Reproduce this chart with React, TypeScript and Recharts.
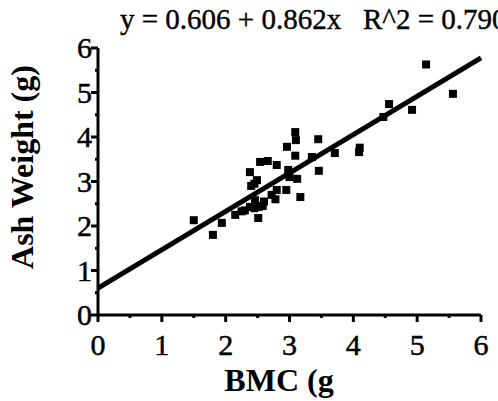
import { ScatterChart, Scatter, XAxis, YAxis, ReferenceLine } from "recharts"

// BMC (g) vs Ash Weight (g)
const bmc = [
  1.5, 1.8, 1.94, 2.15, 2.25, 2.3, 2.38, 2.45, 2.52, 2.58, 2.51, 2.46, 2.4, 2.38,
  2.49, 2.45, 2.54, 2.66, 2.8, 2.72, 2.78, 2.8, 2.95, 2.98, 3.12, 3.0, 2.96, 3.09,
  3.1, 3.09, 3.17, 3.35, 3.45, 3.46, 3.71, 4.09, 4.1, 4.47, 4.56, 4.92, 5.14, 5.56,
  2.6,
]
const ash = [
  2.13, 1.8, 2.07, 2.25, 2.33, 2.35, 2.43, 2.4, 2.43, 2.45, 2.18, 2.58, 2.9, 3.21,
  3.03, 2.95, 3.44, 3.46, 3.37, 2.7, 2.6, 2.81, 2.81, 3.26, 3.06, 3.1, 3.78, 4.11,
  3.93, 3.58, 2.65, 3.55, 3.95, 3.24, 3.64, 3.66, 3.76, 4.45, 4.74, 4.61, 5.63, 4.97,
  2.55,
]
const intercept = 0.606
const slope = 0.862
const r2 = 0.79
const xTicks = [0, 0.5, 1, 1.5, 2, 2.5, 3, 3.5, 4, 4.5, 5, 5.5, 6]
const yTicks = [0, 0.5, 1, 1.5, 2, 2.5, 3, 3.5, 4, 4.5, 5, 5.5, 6]

const points = bmc.map((x, i) => ({ x, y: ash[i] }))

const font = "'Liberation Serif', 'Times New Roman', serif"

const XTick = (props: any) => {
  const { x, y, payload } = props
  const major = Number.isInteger(payload.value)
  return (
    <g>
      <line x1={x} x2={x} y1={y} y2={y + (major ? 7 : 3)} stroke="#000" strokeWidth={3} />
      {major && (
        <text x={x} y={y + 40} textAnchor="middle" fontFamily={font} fontSize={30} fill="#000" stroke="#000" strokeWidth={0.5}>
          {payload.value}
        </text>
      )}
    </g>
  )
}

const YTick = (props: any) => {
  const { x, y, payload } = props
  const major = Number.isInteger(payload.value)
  return (
    <g>
      <line x1={x} x2={x - (major ? 7 : 3)} y1={y} y2={y} stroke="#000" strokeWidth={3} />
      {major && (
        <text x={x - 6} y={y + 10} textAnchor="end" fontFamily={font} fontSize={30} fill="#000" stroke="#000" strokeWidth={0.5}>
          {payload.value}
        </text>
      )}
    </g>
  )
}

const Square = (props: any) => {
  const { cx, cy } = props
  return <rect x={cx - 4} y={cy - 4} width={8} height={8} fill="#000" />
}

export default function App() {
  return (
    <div style={{ position: "absolute", left: 0, top: 0, background: "#fff" }}>
      <ScatterChart width={498} height={401} margin={{ top: 48, right: 17, bottom: 0, left: 0 }}>
        <text x={120} y={29} fontFamily={font} fontSize={29} fill="#000" stroke="#000" strokeWidth={0.4} xmlSpace="preserve">
          {`y = ${intercept} + ${slope}x   R^2 = ${r2.toFixed(3)}`}
        </text>
        <text x={279} y={391} textAnchor="middle" fontFamily={font} fontSize={32} fontWeight="bold" fill="#000">
          BMC (g
        </text>
        <text
          x={22}
          y={167}
          transform="rotate(-90 22 167)"
          textAnchor="middle"
          dominantBaseline="central"
          fontFamily={font}
          fontSize={32}
          fontWeight="bold"
          fill="#000"
        >
          Ash Weight (g)
        </text>
        <XAxis
          type="number"
          dataKey="x"
          domain={[0, 6]}
          ticks={xTicks}
          interval={0}
          height={86}
          tickSize={0}
          tickMargin={0}
          tickLine={false}
          tick={<XTick />}
          axisLine={{ stroke: "#000", strokeWidth: 3 }}
        />
        <YAxis
          type="number"
          dataKey="y"
          domain={[0, 6]}
          ticks={yTicks}
          interval={0}
          width={98}
          tickSize={0}
          tickMargin={0}
          tickLine={false}
          tick={<YTick />}
          axisLine={{ stroke: "#000", strokeWidth: 3 }}
        />
        <ReferenceLine
          segment={[
            { x: 0, y: intercept },
            { x: 6, y: intercept + slope * 6 },
          ]}
          stroke="#000"
          strokeWidth={5}
          ifOverflow="visible"
        />
        <Scatter data={points} fill="#000" shape={<Square />} isAnimationActive={false} />
      </ScatterChart>
    </div>
  )
}
